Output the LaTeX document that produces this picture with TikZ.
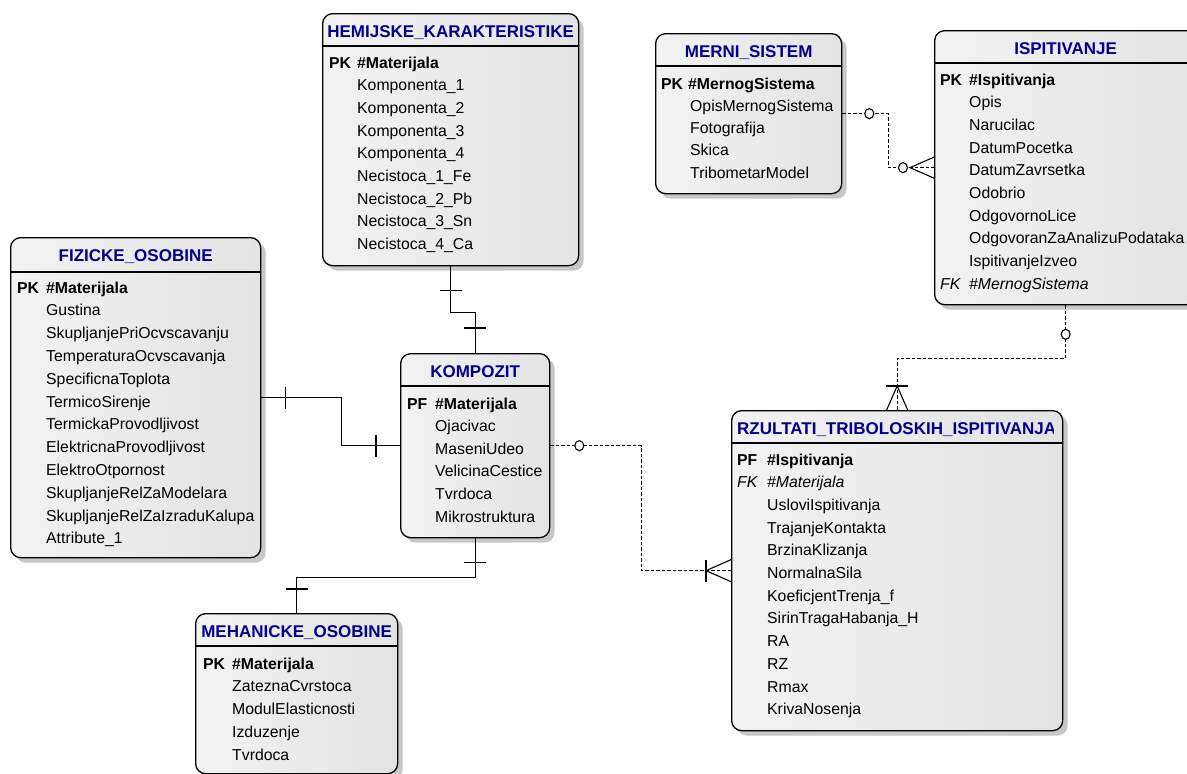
\documentclass[tikz,border=0pt]{standalone}
\usepackage{fontspec}
\setmainfont{Liberation Sans}
\usetikzlibrary{calc, shadows, shapes.geometric}
\definecolor{titleblue}{RGB}{0,0,140}

\begin{document}
\begin{tikzpicture}[x=1pt, y=-1pt,
  entity/.style={draw=black, line width=1.3pt, rounded corners=10pt, anchor=north west, inner sep=0pt,
    left color=black!5, right color=black!11,
    drop shadow={shadow xshift=5pt, shadow yshift=-5pt, fill=black!22, opacity=1}},
  title/.style={text=titleblue, anchor=base, inner sep=0pt, font=\fontsize{17}{19}\selectfont\bfseries},
  attr/.style={anchor=base west, inner sep=0pt, font=\fontsize{15.8}{18}\selectfont},
  keyattr/.style={attr, font=\fontsize{15.8}{18}\selectfont\bfseries},
  fkattr/.style={attr, font=\fontsize{15.8}{18}\selectfont\itshape},
  sepline/.style={line width=1.3pt},
  rel/.style={line width=1.1pt},
  opt/.style={line width=1.1pt, dash pattern=on 3.5pt off 2pt},
  zero/.style={draw, fill=white, line width=1.1pt, ellipse, minimum width=9pt, minimum height=10pt, inner sep=0pt}]
\useasboundingbox (0,0) rectangle (1187,774);
\clip (0,0) rectangle (1187,774);

% HEMIJSKE_KARAKTERISTIKE
\node[entity, minimum width=256pt, minimum height=252pt] (hem) at (322,13) {};
\node[title] (hem-t) at ($(hem.north)+(0,24)$) {HEMIJSKE\_KARAKTERISTIKE};
\draw[sepline] ($(hem.north west)+(0,33)$) -- ($(hem.north east)+(0,33)$);
\node[keyattr] (hem-k) at ($(hem.north west)+(7,55)$) {PK};
\node[keyattr] (hem-0) at ($(hem.north west)+(35,55)$) {\#Materijala};
\foreach \t [count=\i] in {Komponenta\_1, Komponenta\_2, Komponenta\_3, Komponenta\_4,
    Necistoca\_1\_Fe, Necistoca\_2\_Pb, Necistoca\_3\_Sn, Necistoca\_4\_Ca}
  \node[attr] (hem-\i) at ($(hem.north west)+(35,55+22.7*\i)$) {\t};

% FIZICKE_OSOBINE
\node[entity, minimum width=250pt, minimum height=320pt] (fiz) at (10,237) {};
\node[title] (fiz-t) at ($(fiz.north)+(0,24)$) {FIZICKE\_OSOBINE};
\draw[sepline] ($(fiz.north west)+(0,35)$) -- ($(fiz.north east)+(0,35)$);
\node[keyattr] (fiz-k) at ($(fiz.north west)+(7,56)$) {PK};
\node[keyattr] (fiz-0) at ($(fiz.north west)+(36,56)$) {\#Materijala};
\foreach \t [count=\i] in {Gustina, SkupljanjePriOcvscavanju, TemperaturaOcvscavanja, SpecificnaToplota,
    TermicoSirenje, TermickaProvodljivost, ElektricnaProvodljivost, ElektroOtpornost,
    SkupljanjeRelZaModelara, SkupljanjeRelZaIzraduKalupa, Attribute\_1}
  \node[attr] (fiz-\i) at ($(fiz.north west)+(36,56+22.8*\i)$) {\t};

% KOMPOZIT
\node[entity, minimum width=149pt, minimum height=184pt] (komp) at (400,353) {};
\node[title] (komp-t) at ($(komp.north)+(0,24)$) {KOMPOZIT};
\draw[sepline] ($(komp.north west)+(0,33)$) -- ($(komp.north east)+(0,33)$);
\node[keyattr] (komp-k) at ($(komp.north west)+(7,56)$) {PF};
\node[keyattr] (komp-0) at ($(komp.north west)+(35,56)$) {\#Materijala};
\foreach \t [count=\i] in {Ojacivac, MaseniUdeo, VelicinaCestice, Tvrdoca, Mikrostruktura}
  \node[attr] (komp-\i) at ($(komp.north west)+(35,56+22.6*\i)$) {\t};

% MEHANICKE_OSOBINE
\node[entity, minimum width=202pt, minimum height=160pt] (meh) at (195,613) {};
\node[title] (meh-t) at ($(meh.north)+(0,24)$) {MEHANICKE\_OSOBINE};
\draw[sepline] ($(meh.north west)+(0,33)$) -- ($(meh.north east)+(0,33)$);
\node[keyattr] (meh-k) at ($(meh.north west)+(8,56)$) {PK};
\node[keyattr] (meh-0) at ($(meh.north west)+(37,56)$) {\#Materijala};
\foreach \t [count=\i] in {ZateznaCvrstoca, ModulElasticnosti, Izduzenje, Tvrdoca}
  \node[attr] (meh-\i) at ($(meh.north west)+(37,56+22.75*\i)$) {\t};

% MERNI_SISTEM
\node[entity, minimum width=186pt, minimum height=160pt] (merni) at (655,33) {};
\node[title] (merni-t) at ($(merni.north)+(0,24)$) {MERNI\_SISTEM};
\draw[sepline] ($(merni.north west)+(0,33)$) -- ($(merni.north east)+(0,33)$);
\node[keyattr] (merni-k) at ($(merni.north west)+(6,56)$) {PK};
\node[keyattr] (merni-0) at ($(merni.north west)+(33,56)$) {\#MernogSistema};
\foreach \t [count=\i] in {OpisMernogSistema, Fotografija, Skica, TribometarModel}
  \node[attr] (merni-\i) at ($(merni.north west)+(35,56+22.3*\i)$) {\t};

% ISPITIVANJE
\node[entity, minimum width=262pt, minimum height=274pt] (isp) at (934,30) {};
\node[title] (isp-t) at ($(isp.north)+(0,24)$) {ISPITIVANJE};
\draw[sepline] ($(isp.north west)+(0,33)$) -- ($(isp.north east)+(0,33)$);
\node[keyattr] (isp-k) at ($(isp.north west)+(6,55)$) {PK};
\node[keyattr] (isp-0) at ($(isp.north west)+(35,55)$) {\#Ispitivanja};
\foreach \t [count=\i] in {Opis, Narucilac, DatumPocetka, DatumZavrsetka, Odobrio, OdgovornoLice,
    OdgovoranZaAnalizuPodataka, IspitivanjeIzveo}
  \node[attr] (isp-\i) at ($(isp.north west)+(35,55+22.7*\i)$) {\t};
\node[fkattr] (isp-fk) at ($(isp.north west)+(6,259.3)$) {FK};
\node[fkattr] (isp-9) at ($(isp.north west)+(35,259.3)$) {\#MernogSistema};

% RZULTATI_TRIBOLOSKIH_ISPITIVANJA
\node[entity, minimum width=331pt, minimum height=320pt] (rez) at (731,410) {};
\begin{scope}
  \clip ($(rez.north west)+(2,2)$) rectangle ($(rez.north east)+(-10,32)$);
  \node[title, anchor=base west] (rez-t) at ($(rez.north west)+(6,24)$) {RZULTATI\_TRIBOLOSKIH\_ISPITIVANJA};
\end{scope}
\draw[sepline] ($(rez.north west)+(0,33)$) -- ($(rez.north east)+(0,33)$);
\node[keyattr] (rez-k) at ($(rez.north west)+(6,55)$) {PF};
\node[keyattr] (rez-0) at ($(rez.north west)+(36,55)$) {\#Ispitivanja};
\node[fkattr] (rez-fk) at ($(rez.north west)+(6,77.7)$) {FK};
\node[fkattr] (rez-1) at ($(rez.north west)+(36,77.7)$) {\#Materijala};
\foreach \t [count=\i from 2] in {UsloviIspitivanja, TrajanjeKontakta, BrzinaKlizanja, NormalnaSila,
    KoeficjentTrenja\_f, SirinTragaHabanja\_H, RA, RZ, Rmax, KrivaNosenja}
  \node[attr] (rez-\i) at ($(rez.north west)+(36,55+22.7*\i)$) {\t};

% KOMPOZIT -- HEMIJSKE_KARAKTERISTIKE
\draw[rel] (hem.south) -- ++(0,46) -| (komp.north);
\draw[rel] ($(hem.south)+(-11,24)$) -- ++(22,0);
\draw[rel] ($(komp.north)+(-11,-25)$) -- ++(22,0);

% KOMPOZIT -- FIZICKE_OSOBINE
\draw[rel] (fiz.east) -- ++(80,0) |- (komp.west);
\draw[rel] ($(fiz.east)+(24,-11)$) -- ++(0,22);
\draw[rel] ($(komp.west)+(-24,-11)$) -- ++(0,22);

% KOMPOZIT -- MEHANICKE_OSOBINE
\draw[rel] (komp.south) -- ++(0,39) -| (meh.north);
\draw[rel] ($(komp.south)+(-11,24)$) -- ++(22,0);
\draw[rel] ($(meh.north)+(-11,-24)$) -- ++(22,0);

% KOMPOZIT -- RZULTATI
\draw[opt] (komp.east) -- ++(91,0) |- (rez.west);
\node[zero] (c1) at ($(komp.east)+(29,0)$) {};
\draw[rel] ($(rez.west)+(-25,-11)$) -- ++(0,22);
\draw[rel] ($(rez.west)+(0,-11)$) -- ++(-25,11) -- ++(25,11);

% MERNI_SISTEM -- ISPITIVANJE
\draw[opt] (merni.east) -- ++(46,0) |- (isp.west);
\node[zero] (c2) at ($(merni.east)+(27,0)$) {};
\node[zero] (c3) at ($(isp.west)+(-31,0)$) {};
\draw[rel] ($(isp.west)+(0,-10.5)$) -- ++(-24,10.5) -- ++(24,10.5);

% ISPITIVANJE -- RZULTATI
\draw[opt] (isp.south) -- ++(0,53) -| (rez.north);
\node[zero] (c4) at ($(isp.south)+(0,29)$) {};
\draw[rel] ($(rez.north)+(-11,-24)$) -- ++(22,0);
\draw[rel] ($(rez.north)+(-10.5,0)$) -- ++(10.5,-24) -- ++(10.5,24);
\end{tikzpicture}
\end{document}
